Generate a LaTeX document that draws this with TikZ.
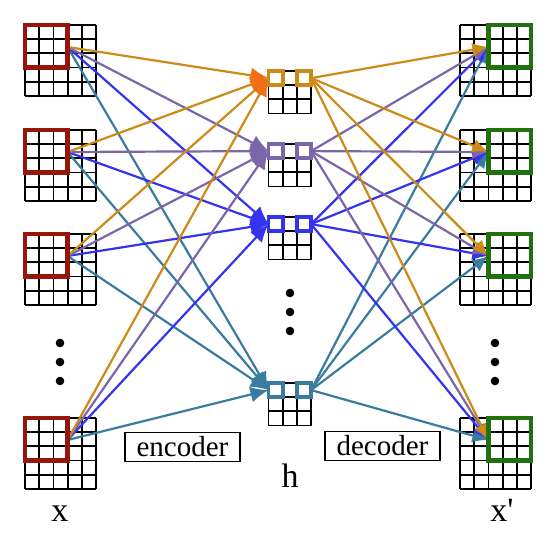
\documentclass[tikz,border=0pt]{standalone}
\usepackage{fontspec}
\setmainfont{Liberation Serif}
\usetikzlibrary{arrows.meta}
\definecolor{boxred}{RGB}{150,22,12}
\definecolor{boxgreen}{RGB}{34,112,14}
\definecolor{hone}{RGB}{206,138,22}
\definecolor{honetip}{RGB}{240,112,24}
\definecolor{htwo}{RGB}{122,102,168}
\definecolor{hthree}{RGB}{52,52,238}
\definecolor{hfour}{RGB}{58,124,160}

\begin{document}
\begin{tikzpicture}[x=1pt,y=-1pt,
    gridline/.style={black,line width=1.8pt},
    patch/.style={line width=4.5pt,line join=miter},
    unitcell/.style={line width=3.6pt},
    link/.style={line width=2.2pt},
    label/.style={font=\fontsize{34}{36}\selectfont,anchor=base,inner sep=0pt},
    stage/.style={draw,line width=1.3pt,minimum width=115pt,minimum height=29pt,inner sep=0pt,font=\fontsize{29}{30}\selectfont}]
\useasboundingbox (0,0) rectangle (550,537);

% input and output grids
\foreach \t [count=\i] in {25,130,234,418} {
    \foreach \k in {0,...,5} {
        \draw[gridline] (25+\k*14.2,\t) -- ++(0,71);
        \draw[gridline] (25,\t+\k*14.2) -- ++(71,0);
        \draw[gridline] (460+\k*14.2,\t) -- ++(0,71);
        \draw[gridline] (460,\t+\k*14.2) -- ++(71,0);
    }
    \coordinate (x\i) at (67.6,\t+22);
    \coordinate (y\i) at (488.4,\t+22);
}

% hidden units
\foreach \t/\c [count=\j] in {71/hone,144/htwo,217/hthree,383/hfour} {
    \foreach \k in {0,...,3} {
        \draw[gridline] (268.5+\k*14.2,\t) -- ++(0,42.6);
        \draw[gridline] (268.5,\t+\k*14.2) -- ++(42.6,0);
    }
    \coordinate (hin\j) at (268.5,\t+7.1);
    \coordinate (hout\j) at (311.1,\t+7.1);
}

% encoder and decoder links
\foreach \j/\c/\tc in {4/hfour/hfour,3/hthree/hthree,2/htwo/htwo,1/hone/honetip} {
    \foreach \i in {1,...,4} {
        \draw[link,\c,-{Latex[length=18pt,width=16pt,color=\tc]}] (x\i) -- (hin\j);
        \draw[link,\c,-{Latex[length=16pt,width=14pt]}] (hout\j) -- (y\i);
    }
}

% highlighted patches
\foreach \t in {25,130,234,418} {
    \draw[patch,boxred] (25,\t) rectangle ++(42.6,42.6);
    \draw[patch,boxgreen] (488.4,\t) rectangle ++(42.6,42.6);
}
\foreach \t/\c in {71/hone,144/htwo,217/hthree,383/hfour} {
    \draw[unitcell,\c] (268.5,\t) rectangle ++(14.2,14.2);
    \draw[unitcell,\c] (296.9,\t) rectangle ++(14.2,14.2);
}

% dots
\foreach \y in {343,362,381} {
    \fill (60,\y) circle[radius=4.3pt];
    \fill (495,\y) circle[radius=4.3pt];
}
\foreach \y in {293,312,331} {
    \fill (290,\y) circle[radius=4.3pt];
}

% labels
\node[stage] (enc) at (182.5,447) {encoder};
\node[stage] (dec) at (382.5,446) {decoder};
\node[label] (xin) at (60,522) {x};
\node[label] (hid) at (290,488) {h};
\node[label] (xout) at (502,522) {x\textquotesingle};
\end{tikzpicture}
\end{document}
